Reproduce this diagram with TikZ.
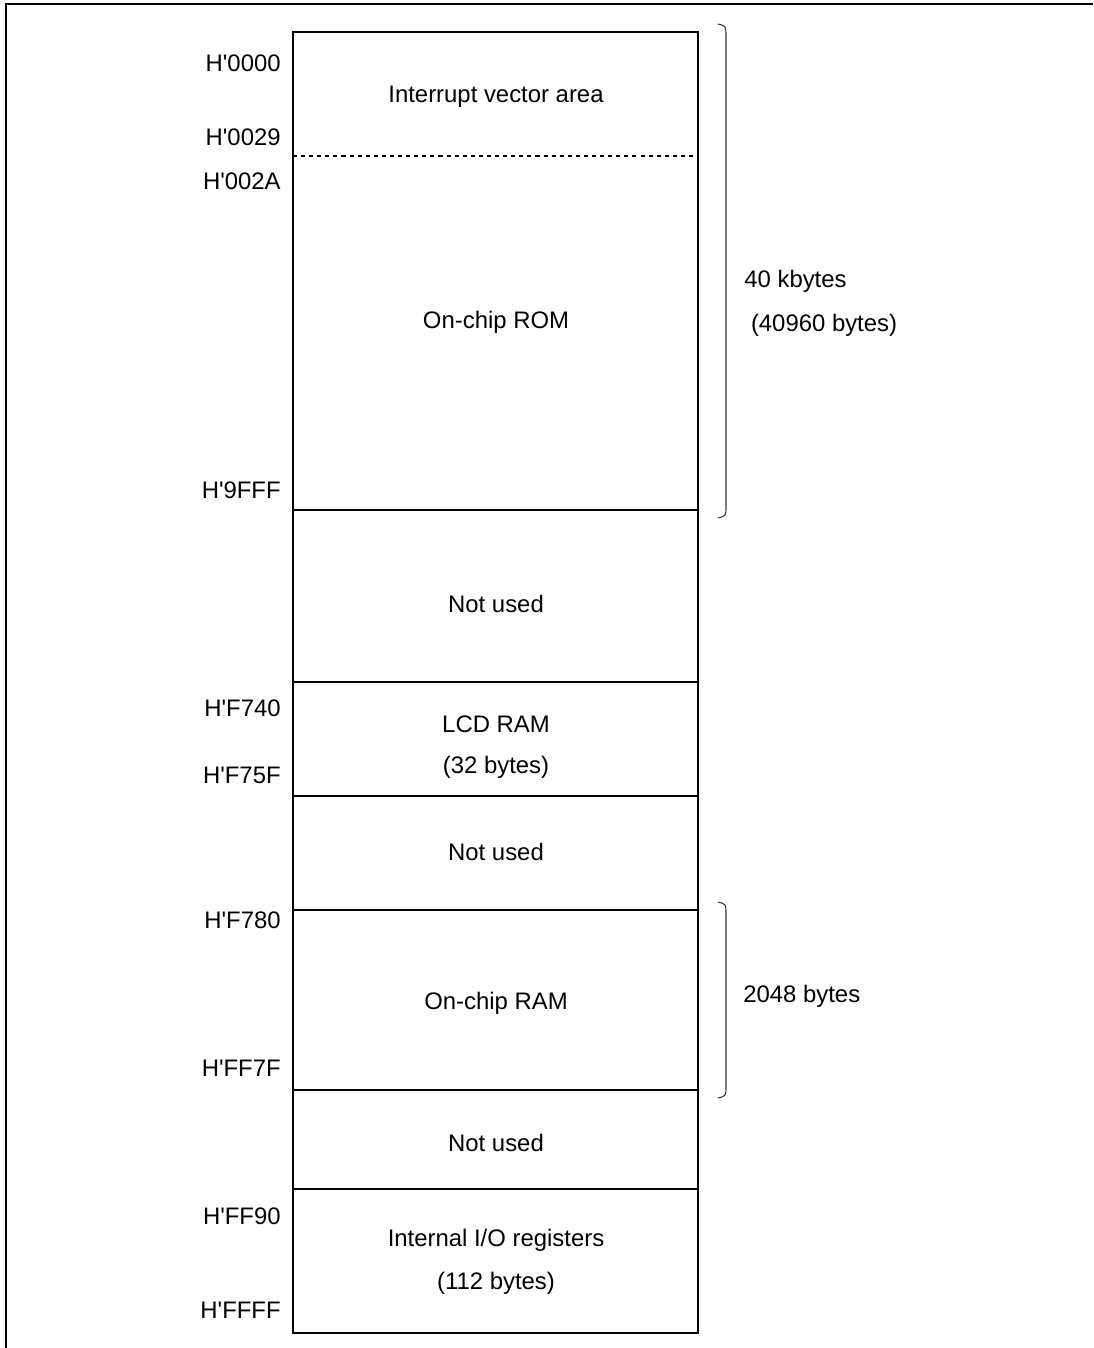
\documentclass[tikz,border=0pt]{standalone}
\usepackage{fontspec}
\setmainfont{Liberation Sans}
\usetikzlibrary{positioning}
\newcommand{\hx}[1]{H\textquotesingle#1}
\tikzset{
    addr/.style={anchor=base east, inner sep=0pt, font=\fontsize{13.6}{16}\selectfont},
    area/.style={anchor=base, inner sep=0pt, font=\fontsize{13.6}{16}\selectfont},
    size/.style={anchor=base west, inner sep=0pt, font=\fontsize{13.6}{16}\selectfont},
    brace/.style={draw=black!80, line width=0.6pt},
}

\begin{document}
\begin{tikzpicture}[x=0.02cm, y=-0.02cm]
            \useasboundingbox (0,0) rectangle (1093,1348);
            \draw[line width=0.6pt] (1093,4) -- (6,4) -- (6,1348);

            \coordinate (tl) at (293,32);
            \coordinate (br) at (698,1333);
            \draw[line width=1.1pt] (tl) rectangle (br);
            \draw[line width=0.6pt, dash pattern=on 2.3pt off 2.3pt] (293,156) -- (698,156);
            \draw[line width=0.6pt] (293,510) -- (698,510);
            \draw[line width=0.6pt] (293,682) -- (698,682);
            \draw[line width=0.6pt] (293,796) -- (698,796);
            \draw[line width=0.6pt] (293,910) -- (698,910);
            \draw[line width=0.6pt] (293,1090) -- (698,1090);
            \draw[line width=0.6pt] (293,1189) -- (698,1189);

            \node[addr] (a0000) at (281,72) {\hx{0000}};
            \node[addr] (a0029) at (281,146) {\hx{0029}};
            \node[addr] (a002A) at (281,190) {\hx{002A}};
            \node[addr] (a9FFF) at (281,498) {\hx{9FFF}};
            \node[addr] (aF740) at (281,716) {\hx{F740}};
            \node[addr] (aF75F) at (281,783) {\hx{F75F}};
            \node[addr] (aF780) at (281,928) {\hx{F780}};
            \node[addr] (aFF7F) at (281,1076) {\hx{FF7F}};
            \node[addr] (aFF90) at (281,1224) {\hx{FF90}};
            \node[addr] (aFFFF) at (281,1318) {\hx{FFFF}};

            \node[area] (vect) at (496,103) {Interrupt vector area};
            \node[area] (rom) at (496,328) {On-chip ROM};
            \node[area] (free1) at (496,612) {Not used};
            \node[area] (lcd) at (496,732) {LCD RAM};
            \node[area] (lcdsize) at (496,773) {(32 bytes)};
            \node[area] (free2) at (496,860) {Not used};
            \node[area] (ram) at (496,1009) {On-chip RAM};
            \node[area] (free3) at (496,1151) {Not used};
            \node[area] (io) at (496,1246) {Internal I/O registers};
            \node[area] (iosize) at (496,1289) {(112 bytes)};

            \draw[brace] (718,24) .. controls (726,26) .. (726,36) -- (726,506) .. controls (726,516) .. (718,518);
            \draw[brace] (718,902) .. controls (726,904) .. (726,914) -- (726,1086) .. controls (726,1096) .. (718,1098);

            \node[size] (romsize) at (744,287) {40 kbytes};
            \node[size] (rombytes) at (744,331) {\ (40960 bytes)};
            \node[size] (ramsize) at (743,1002) {2048 bytes};
        \end{tikzpicture}
\end{document}
